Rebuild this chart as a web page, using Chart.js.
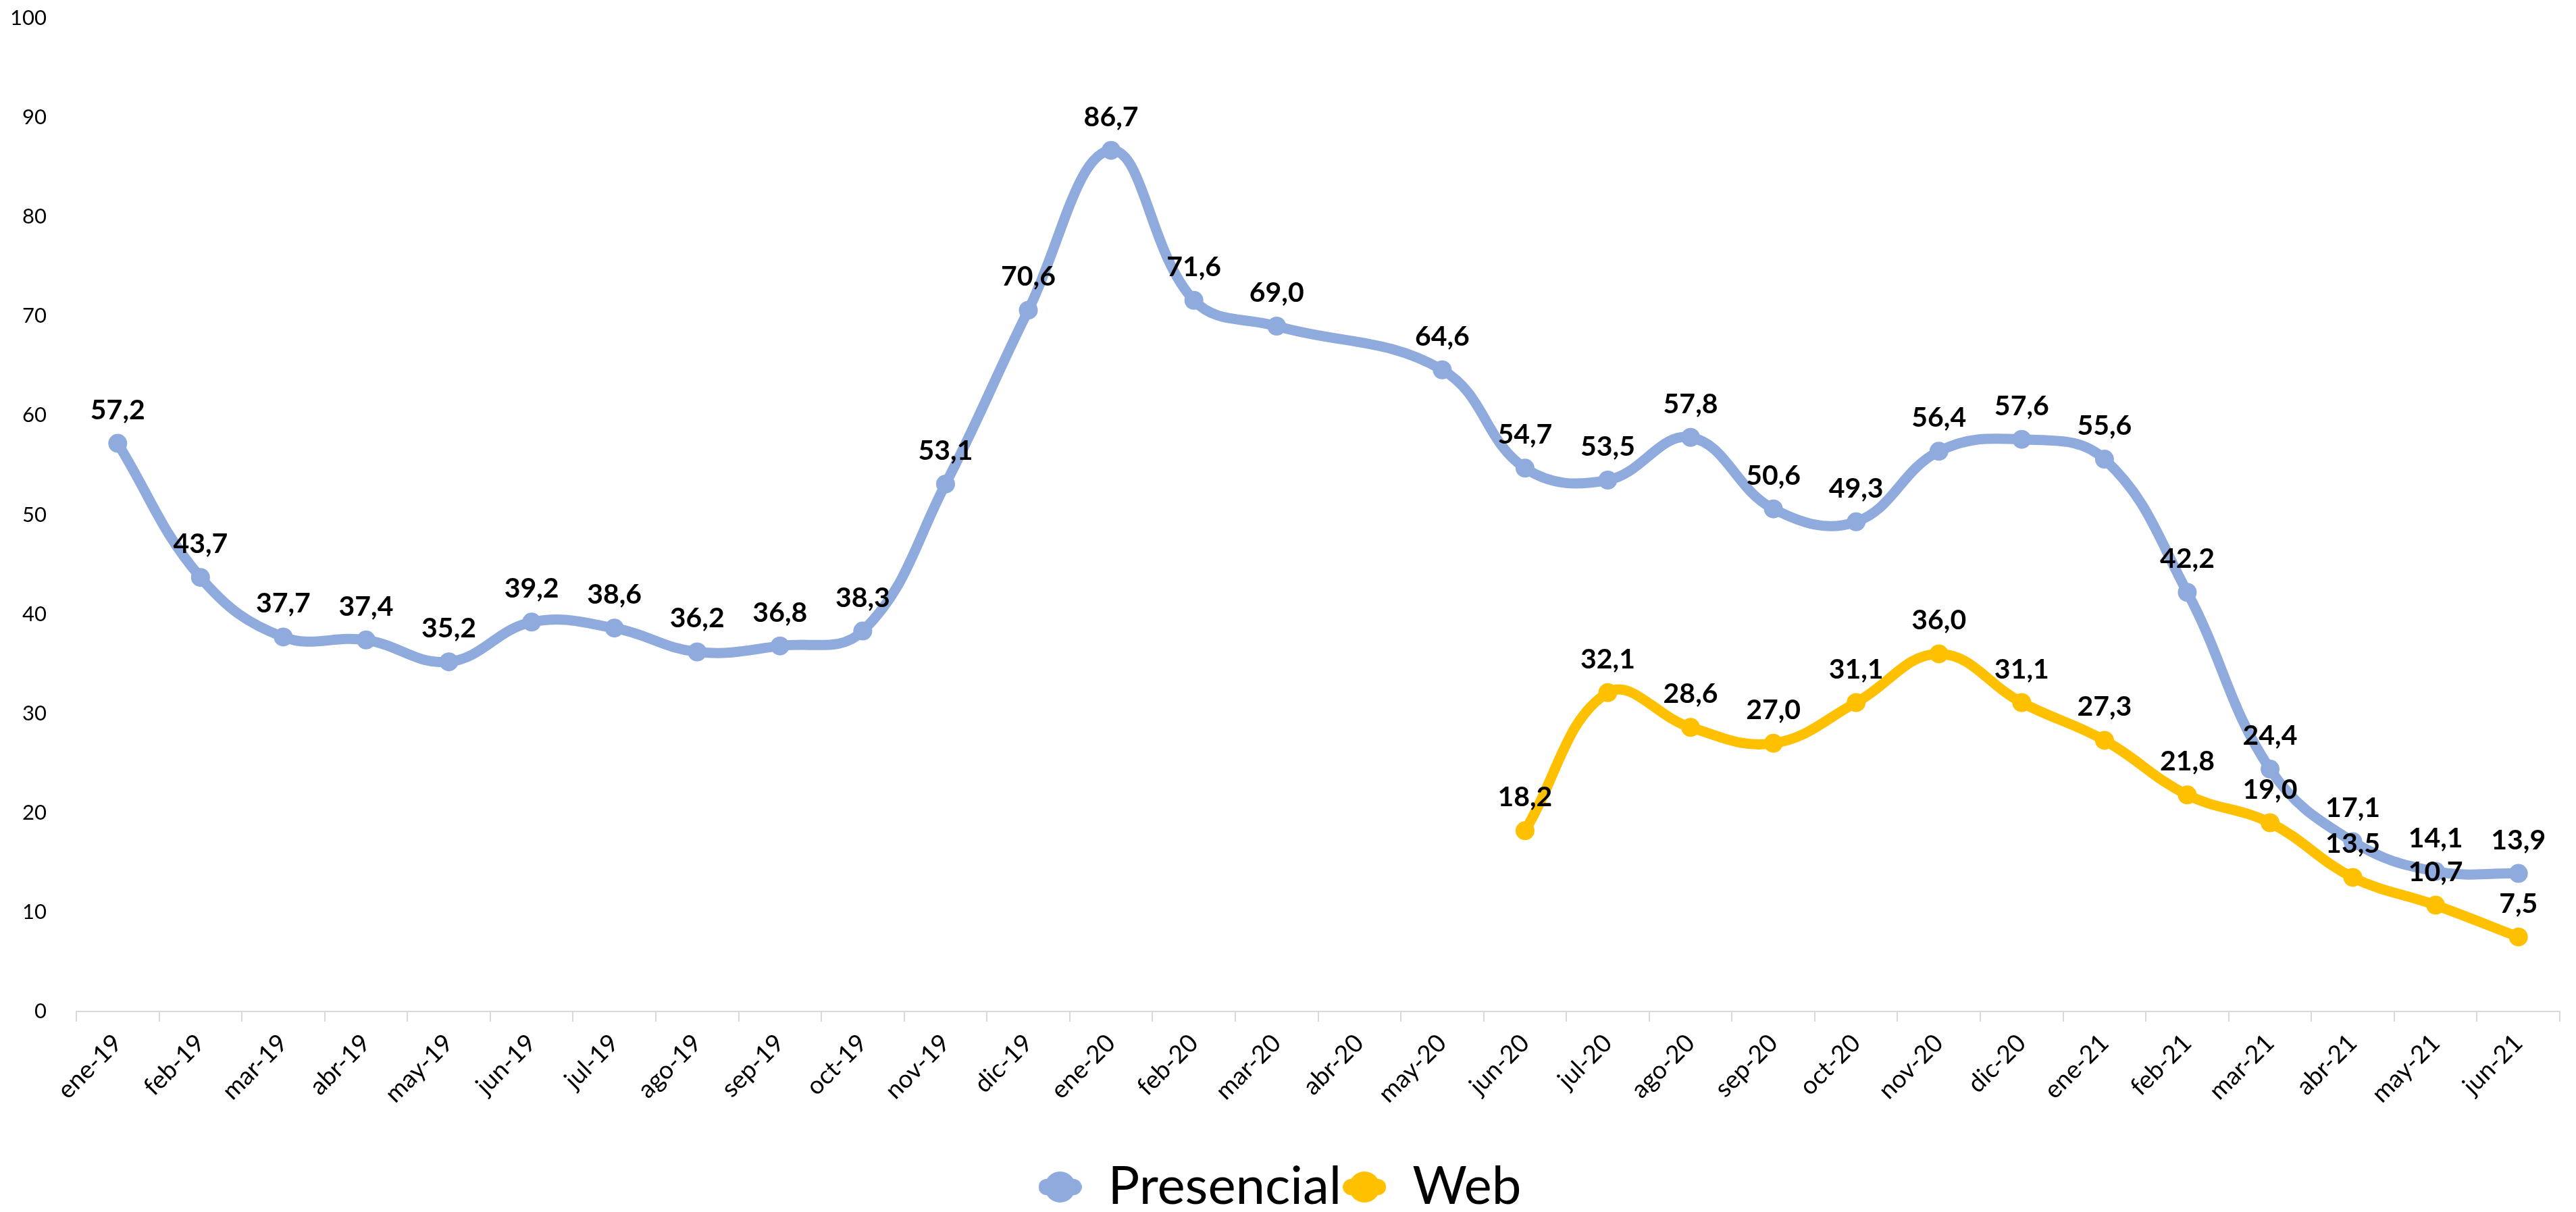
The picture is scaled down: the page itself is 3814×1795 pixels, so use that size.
<!DOCTYPE html>
<html>
<head>
<meta charset="utf-8">
<script src="https://cdn.jsdelivr.net/npm/chart.js@4"></script>
<style>
  html, body { margin: 0; padding: 0; background: #fff; }
  #wrap { width: 3814px; height: 1795px; }
</style>
</head>
<body>
<div id="wrap"><canvas id="chart"></canvas></div>
<script>
// Month labels (Spanish)
const months = ['ene-19','feb-19','mar-19','abr-19','may-19','jun-19','jul-19','ago-19','sep-19','oct-19','nov-19','dic-19',
                'ene-20','feb-20','mar-20','abr-20','may-20','jun-20','jul-20','ago-20','sep-20','oct-20','nov-20','dic-20',
                'ene-21','feb-21','mar-21','abr-21','may-21','jun-21'];

// Series values (abr-20 has no value for Presencial)
const presencial = [57.2, 43.7, 37.7, 37.4, 35.2, 39.2, 38.6, 36.2, 36.8, 38.3, 53.1, 70.6,
                    86.7, 71.6, 69.0, null, 64.6, 54.7, 53.5, 57.8, 50.6, 49.3, 56.4, 57.6,
                    55.6, 42.2, 24.4, 17.1, 14.1, 13.9];
const web = [null, null, null, null, null, null, null, null, null, null, null, null,
             null, null, null, null, null, 18.2, 32.1, 28.6, 27.0, 31.1, 36.0, 31.1,
             27.3, 21.8, 19.0, 13.5, 10.7, 7.5];

const yTicks = [0, 10, 20, 30, 40, 50, 60, 70, 80, 90, 100];

const FONT = 'Lato, "Open Sans", sans-serif';

// legend marker: short line with a dot in the middle
function legendMarker(color) {
    const c = document.createElement('canvas');
    c.width = 64; c.height = 50;
    const g = c.getContext('2d');
    g.strokeStyle = color;
    g.lineWidth = 24;
    g.lineCap = 'round';
    g.beginPath(); g.moveTo(12, 25); g.lineTo(52, 25); g.stroke();
    g.fillStyle = color;
    g.beginPath(); g.arc(32, 25, 23, 0, Math.PI * 2); g.fill();
    return c;
}

// draws value labels above each point, decimal comma
const valueLabels = {
    id: 'valueLabels',
    afterDatasetsDraw(chart) {
        const ctx = chart.ctx;
        ctx.save();
        ctx.font = 'bold 41px ' + FONT;
        ctx.fillStyle = '#000';
        ctx.textAlign = 'center';
        ctx.textBaseline = 'alphabetic';
        chart.data.datasets.forEach((ds, i) => {
            const meta = chart.getDatasetMeta(i);
            meta.data.forEach((pt, j) => {
                const v = ds.data[j];
                if (v === null || v === undefined) return;
                ctx.fillText(v.toFixed(1).replace('.', ','), pt.x, pt.y - 36);
            });
        });
        ctx.restore();
    }
};

const ctx = document.getElementById('chart').getContext('2d');
const chart = new Chart(ctx, {
    type: 'line',
    data: {
        labels: months,
        datasets: [{
            label: 'Presencial',
            data: presencial,
            borderColor: '#8FAADC',
            backgroundColor: '#8FAADC',
            borderWidth: 15,
            pointStyle: 'circle',
            pointRadius: 14,
            pointHoverRadius: 14,
            pointBorderWidth: 0,
            tension: 0.4,
            spanGaps: true
        }, {
            label: 'Web',
            data: web,
            borderColor: '#FFC000',
            backgroundColor: '#FFC000',
            borderWidth: 15,
            pointStyle: 'circle',
            pointRadius: 14,
            pointHoverRadius: 14,
            pointBorderWidth: 0,
            tension: 0.4,
            spanGaps: false
        }]
    },
    options: {
        responsive: true,
        maintainAspectRatio: false,
        animation: false,
        layout: { autoPadding: false, padding: { top: 27, left: 0, right: 24, bottom: -12 } },
        scales: {
            x: {
                offset: true,
                afterFit(scale) { scale.height = 219; },
                grid: {
                    display: true,
                    drawOnChartArea: false,
                    drawTicks: true,
                    tickLength: 15,
                    offset: true,
                    color: '#d9d9d9',
                    lineWidth: 2
                },
                border: { display: true, color: '#d9d9d9', width: 2 },
                ticks: {
                    color: '#000',
                    font: { family: FONT, size: 37 },
                    maxRotation: 45,
                    minRotation: 45,
                    autoSkip: false,
                    padding: 10
                }
            },
            y: {
                min: 0,
                max: 100,
                afterBuildTicks(scale) {
                    scale.ticks = yTicks.map(v => ({ value: v }));
                },
                afterFit(scale) {
                    scale.width = 113;
                    scale.paddingTop = 0;
                    scale.paddingBottom = 0;
                },
                grid: { display: false },
                border: { display: false },
                ticks: {
                    color: '#000',
                    font: { family: FONT, size: 31 },
                    padding: 36
                }
            }
        },
        plugins: {
            legend: {
                position: 'bottom',
                labels: {
                    color: '#000',
                    font: { family: FONT, size: 78 },
                    usePointStyle: true,
                    pointStyleWidth: 64,
                    padding: 2,
                    generateLabels(chart) {
                        return chart.data.datasets.map((ds, i) => ({
                            text: ds.label,
                            fillStyle: ds.borderColor,
                            strokeStyle: ds.borderColor,
                            pointStyle: legendMarker(ds.borderColor),
                            lineWidth: 0,
                            hidden: false,
                            datasetIndex: i
                        }));
                    }
                }
            },
            tooltip: { enabled: false }
        }
    },
    plugins: [valueLabels]
});
</script>
</body>
</html>
